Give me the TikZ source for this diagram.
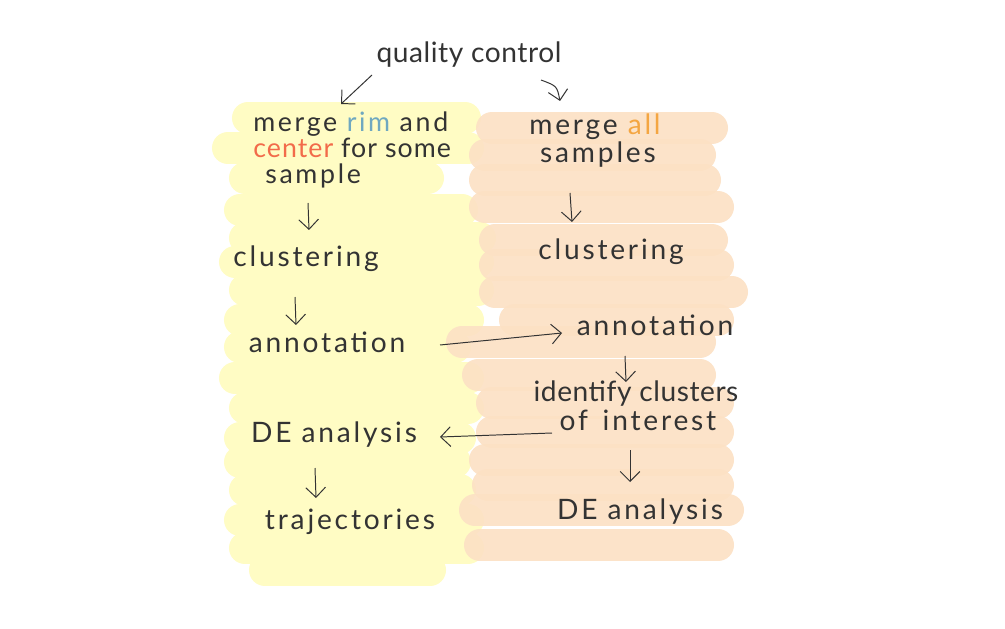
\documentclass[tikz,border=0pt]{standalone}
\usepackage{fontspec}
\setmainfont{Lato}[LetterSpace=10]
\usetikzlibrary{arrows.meta}
\definecolor{hlY}{HTML}{FFFCC4}
\definecolor{hlP}{HTML}{FCE1C4}
\definecolor{ink}{HTML}{333333}
\definecolor{rimc}{HTML}{6FA8C0}
\definecolor{centc}{HTML}{F26B4A}
\definecolor{allc}{HTML}{F4A642}
\tikzset{
  yel/.style={line width=0.8cm, line cap=round, draw=hlY},
  pea/.style={line width=0.8cm, line cap=round, draw=hlP, opacity=0.9},
  txt/.style={inner sep=0pt, text=ink, text height=14pt, text depth=3.8pt, font=\fontsize{20}{24}\selectfont},
  small/.style={font=\fontsize{19}{23}\selectfont},
  tight/.style={font=\fontsize{20}{24}\selectfont\addfontfeature{LetterSpace=2}},
  smalltight/.style={font=\fontsize{19}{23}\selectfont\addfontfeature{LetterSpace=4}},
  arr/.style={draw=ink, line width=0.7pt, -{Straight Barb[length=7pt,width=14pt]}},
}
\begin{document}
\begin{tikzpicture}[x=0.025cm,y=-0.025cm]
\useasboundingbox (0,0) rectangle (1005,629);
\fill[white] (0,0) rectangle (1005,629);
% yellow highlight strokes
\foreach \a/\b/\y in {248/465/118, 228/468/148, 245/428/178, 240/462/210, 245/480/238, 235/478/262, 245/478/290, 240/468/320, 240/455/347, 235/468/378, 245/468/408, 240/460/438, 240/455/462, 245/460/490, 240/468/520, 245/468/548, 265/430/570}
  \draw[yel] (\a,\y) -- (\b,\y);
% peach strokes
\foreach \a/\b/\y in {492/712/128, 485/700/155, 485/705/180, 485/718/207, 495/712/240, 495/718/265, 495/732/292, 515/718/320, 462/700/342, 478/700/375, 492/718/403, 492/718/432, 485/718/460, 488/718/485, 475/728/510, 480/718/545}
  \draw[pea] (\a,\y) -- (\b,\y);

% texts
\node[txt, tight] (qc) at (469,55) {quality control};
\node[txt, small, anchor=west] (m1) at (253,124) {merge \textcolor{rimc}{rim} and};
\node[txt, smalltight, anchor=west] (m2) at (253,150) {\textcolor{centc}{center} for some};
\node[txt, small, anchor=west] (m3) at (265,176) {sample};
\node[txt] (cl) at (306,259) {clustering};
\node[txt] (an) at (327,345) {annotation};
\node[txt] (deL) at (334,435) {DE analysis};
\node[txt] (tr) at (350,522) {trajectories};

\node[txt] (ma1) at (595,127) {merge \textcolor{allc}{all}};
\node[txt] (ma2) at (598,155) {samples};
\node[txt] (clR) at (611,252) {clustering};
\node[txt] (anR) at (655,328) {annotation};
\node[txt, tight] (id1) at (636,394) {identify clusters};
\node[txt] (id2) at (638,423) {of \,interest};
\node[txt] (deR) at (640,512) {DE analysis};

% connectors (offsets in px from node anchors)
\draw[arr] ([shift={(-97,20)}]qc.center) -- ([shift={(88,-20)}]m1.west);
\draw[arr] ([shift={(72,25)}]qc.center) .. controls ([shift={(88,31)}]qc.center) .. ([shift={(-35,-26)}]ma1.center);
\draw[arr] ([shift={(43,27)}]m3.west) -- ([shift={(3,-29)}]cl.center);
\draw[arr] ([shift={(-11,38)}]cl.center) -- ([shift={(-31,-20)}]an.center);
\draw[arr] ([shift={(113,0)}]an.center) -- ([shift={(-93,5)}]anR.center);
\draw[arr] ([shift={(-28,38)}]ma2.center) -- ([shift={(-39,-30)}]clR.center);
\draw[arr] ([shift={(-30,28)}]anR.center) -- ([shift={(-10,-12)}]id1.center);
\draw[arr] ([shift={(-86,10)}]id2.center) -- ([shift={(106,2)}]deL.center);
\draw[arr] ([shift={(-8,27)}]id2.center) -- ([shift={(-10,-30)}]deR.center);
\draw[arr] ([shift={(-19,33)}]deL.center) -- ([shift={(-34,-24)}]tr.center);
\end{tikzpicture}
\end{document}
